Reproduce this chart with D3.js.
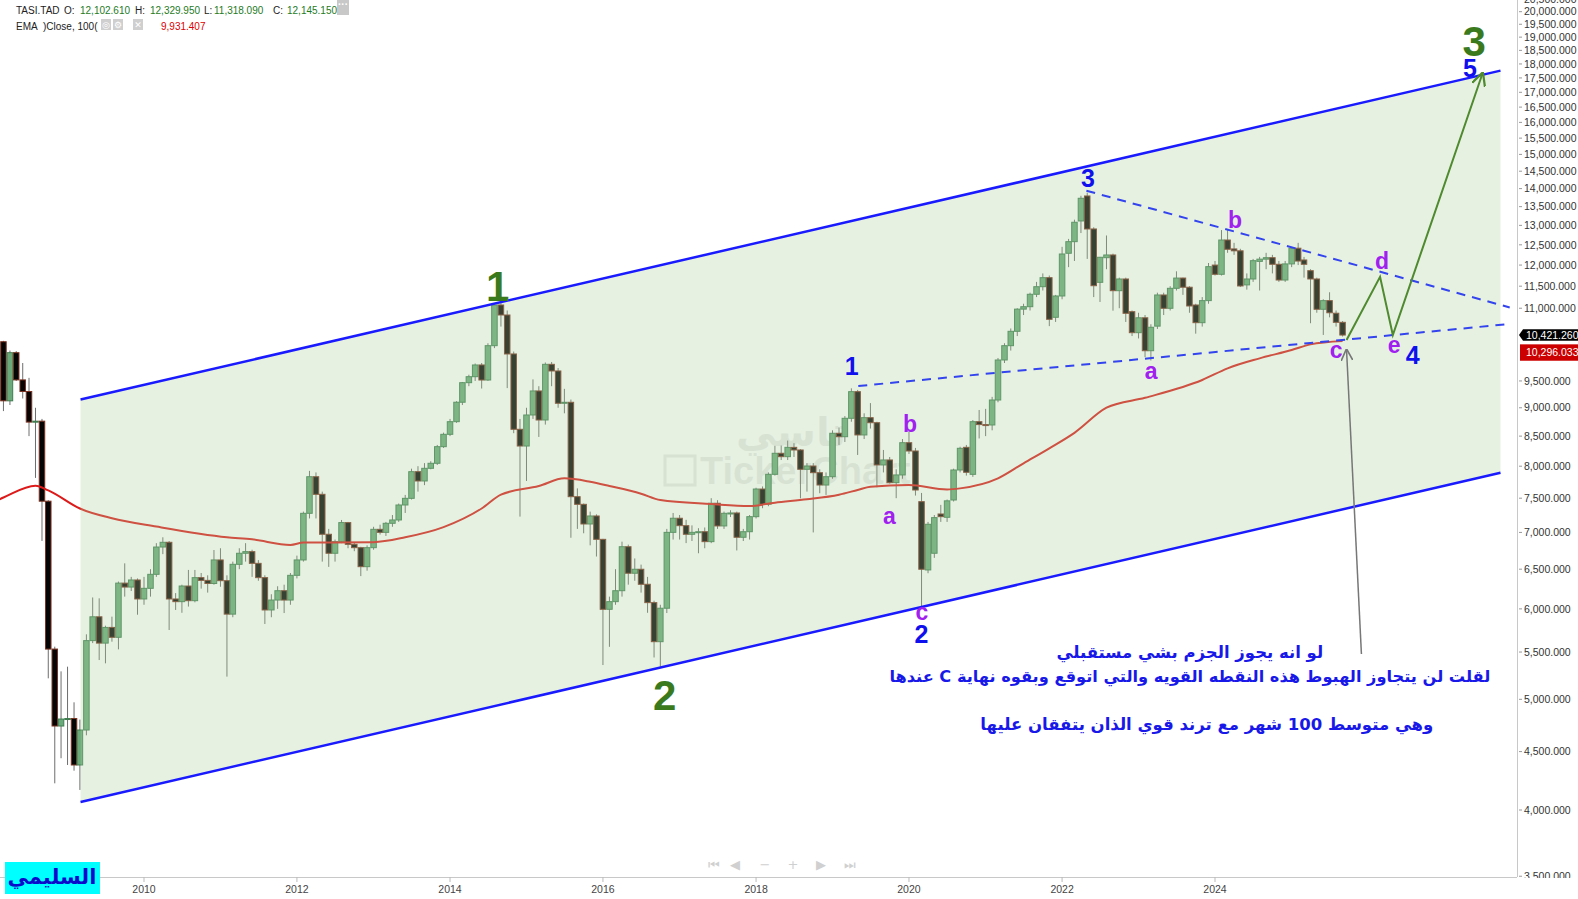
<!DOCTYPE html>
<html><head><meta charset="utf-8">
<script src="https://cdn.jsdelivr.net/npm/d3@7/dist/d3.min.js"></script>
<style>
body{margin:0;background:#fff;}
svg{display:block;font-family:"Liberation Sans",Arial,"DejaVu Sans",sans-serif;}
</style></head><body>
<svg id="chart" width="1578" height="899"></svg>
<script>
// ---------------- DATA (monthly TASI candles, [open, high, low, close]) ----------------
const firstMonth = "2008-03";
const ohlc2008 = [[10282,10300,8940,9127],[9127,10100,9050,10057],[10057,10090,9500,9520],[9520,9850,9170,9300],[9300,9560,8500,8744],[8744,9000,7813,8760],[8760,8800,6881,7455],[7455,7470,5216,5533],[5533,5560,4221,4738],[4738,5290,4440,4805]];
const ohlc2009 = [[4805,5340,4380,4810],[4810,4970,4330,4380],[4380,4800,4165,4700],[4700,5700,4650,5628],[5628,6140,5600,5905],[5905,6129,5412,5600],[5600,5800,5376,5780],[5780,5907,5616,5666],[5666,6340,5530,6320],[6320,6577,6150,6270],[6270,6400,6220,6360],[6360,6380,5930,6121]];
const ohlc2010 = [[6121,6400,6050,6254],[6254,6500,6150,6433],[6433,6850,6400,6797],[6797,6932,6700,6862],[6862,6880,5750,6121],[6121,6194,5987,6088],[6088,6300,5953,6283],[6283,6490,6028,6100],[6100,6490,6080,6390],[6390,6450,6250,6355],[6355,6420,6200,6315],[6315,6756,6300,6622]];
const ohlc2011 = [[6622,6780,6274,6351],[6351,6420,5234,5937],[5937,6600,5900,6564],[6564,6780,6500,6712],[6712,6850,6600,6734],[6734,6760,6400,6577],[6577,6620,6350,6390],[6390,6420,5820,5987],[5987,6180,5900,6108],[6108,6280,6000,6224],[6224,6300,5950,6108],[6108,6450,6050,6420]];
const ohlc2012 = [[6420,6680,6380,6622],[6622,7300,6600,7275],[7275,7925,7200,7832],[7832,7900,7200,7559],[7559,7600,6600,6974],[6974,7050,6530,6712],[6712,6900,6600,6871],[6871,7178,6850,7140],[7140,7150,6780,6834],[6834,6860,6740,6788],[6788,6800,6410,6533],[6533,6820,6480,6788]];
const ohlc2013 = [[6788,7080,6760,7044],[7044,7110,6970,7001],[7001,7150,6950,7130],[7130,7250,7080,7178],[7178,7420,7150,7398],[7398,7550,7280,7498],[7498,7960,7480,7912],[7912,8000,7600,7765],[7765,8050,7700,7966],[7966,8080,7950,8047],[8047,8350,8020,8321],[8321,8560,8300,8531]];
const ohlc2014 = [[8531,8800,8500,8751],[8751,9120,8730,9101],[9101,9480,9050,9467],[9467,9620,9400,9582],[9582,9840,9500,9811],[9811,9850,9356,9518],[9518,10250,9500,10200],[10200,11080,10150,11072],[11072,11160,10600,10851],[10851,10950,9364,10031],[10031,10080,8550,8618],[8618,8800,7227,8332]];
const ohlc2015 = [[8332,9000,7765,8870],[8870,9530,8800,9310],[9310,9400,8486,8781],[8781,9860,8700,9824],[9824,9870,9400,9693],[9693,9750,9000,9082],[9082,9350,8900,9100],[9100,9150,6925,7523],[7523,7650,7050,7408],[7408,7420,6988,7120],[7120,7300,6820,7236],[7236,7260,6668,6903]];
const ohlc2016 = [[6903,6910,5358,5995],[5995,6150,5558,6088],[6088,6500,6050,6224],[6224,6871,6150,6801],[6801,6830,6300,6447],[6447,6642,6350,6499],[6499,6560,6200,6305],[6305,6400,5953,6076],[6076,6100,5440,5616],[5616,6050,5338,6008],[6008,7050,5950,7001],[7001,7280,6900,7203]];
const ohlc2017 = [[7203,7250,6900,7096],[7096,7180,6851,6974],[6974,7100,6880,7001],[7001,7060,6712,7010],[7010,7070,6780,6871],[6871,7500,6850,7424],[7424,7470,7050,7092],[7092,7300,7050,7275],[7275,7320,7220,7280],[7280,7300,6750,6932],[6932,7050,6880,7010],[7010,7250,6900,7226]];
const ohlc2018 = [[7226,7660,7200,7640],[7640,7680,7350,7410],[7410,7900,7380,7870],[7870,8335,7850,8211],[8211,8340,8100,8155],[8155,8424,8100,8310],[8310,8380,8150,8266],[8266,8280,7498,7950],[7950,8050,7600,8003],[8003,8050,7000,7896],[7896,7950,7575,7702],[7702,7900,7550,7832]];
const ohlc2019 = [[7832,8600,7800,8549],[8549,8650,8350,8490],[8490,8850,8400,8811],[8811,9360,8750,9297],[9297,9330,8183,8520],[8520,8900,8450,8822],[8822,9085,8631,8733],[8733,8750,7667,8020],[8020,8266,7900,8101],[8101,8150,7725,7739],[7739,7950,7500,7860],[7860,8450,7800,8388]];
const ohlc2020 = [[8388,8600,8200,8249],[8249,8300,7540,7625],[7448,7580,6008,6499],[6490,7150,6447,7116],[6712,7250,6650,7212],[7265,7400,7150,7226],[7217,7480,7150,7460],[7473,7960,7450,7939],[7939,8320,7900,8294],[8310,8350,7850,7902],[7870,8780,7830,8751],[8751,8960,8460,8700]];
const ohlc2021 = [[8700,8980,8500,8693],[8693,9200,8600,9142],[9142,9950,9100,9910],[9910,10250,9850,10200],[10200,10560,10100,10500],[10500,11000,10400,10980],[10980,11100,10850,11034],[11034,11350,10950,11314],[11314,11600,11250,11488],[11488,11800,11400,11699],[11699,11750,10610,10757],[10801,11300,10700,11275]];
const ohlc2022 = [[11275,12450,11200,12271],[12289,12650,11950,12580],[12580,13150,12100,13082],[13116,13800,12800,13730],[13794,13887,12150,12906],[12906,12950,11250,11511],[11590,12200,11140,12190],[12180,12738,11900,12247],[12247,12280,10946,11396],[11396,11700,11000,11668],[11668,11700,10700,10888],[10924,10950,10400,10471]];
const ohlc2023 = [[10471,10900,10350,10790],[10790,10850,9966,10097],[10097,10650,9900,10586],[10610,11350,10550,11298],[11298,11350,10850,10999],[10999,11500,10950,11451],[11451,11850,11400,11690],[11690,11700,11300,11476],[11476,11500,10900,11050],[11072,11100,10450,10684],[10684,11250,10600,11170],[11170,12050,11100,11962]];
const ohlc2024 = [[12000,12100,11750,11779],[11779,12878,11750,12622],[12622,12880,12300,12388],[12397,12550,12250,12350],[12350,12400,11480,11505],[11530,11800,11420,11668],[11668,12150,11600,12107],[12090,12200,11400,12144],[12144,12300,11900,12180],[12180,12250,11800,12019],[12019,12100,11600,11644],[11644,12100,11600,12028]];
const ohlc2025 = [[12028,12450,11950,12415],[12415,12550,12000,12098],[12124,12200,11700,12019],[11865,11900,10672,11668],[11668,11700,10900,10977],[10977,11200,10423,11170],[11170,11360,10800,10900],[10890,10950,10600,10692],[10692,10720,10390,10421]];

// EMA(100) line
const emaMonths = ["2008-02","2008-03","2008-08","2008-10","2009-03","2009-08","2010-03","2011-02","2011-06","2011-12","2012-02","2013-01","2013-06","2013-12","2014-06","2014-09","2015-03","2015-07","2015-11","2016-02","2016-07","2016-10","2017-06","2017-12","2018-04","2018-09","2019-02","2019-05","2019-07","2020-01","2020-07","2020-09","2021-03","2021-07","2021-11","2022-03","2022-08","2023-02","2023-11","2024-03","2024-08","2025-01","2025-04","2025-09"];
const emaValues = [7470,7510,7690,7620,7346,7203,7083,6932,6903,6826,6858,6864,6932,7075,7346,7553,7687,7806,7753,7687,7568,7473,7413,7383,7433,7483,7553,7626,7676,7702,7633,7650,7806,8047,8294,8557,9001,9183,9518,9745,9943,10112,10227,10296];

// drawn channel and trend lines
const channelDates = ["2009-03-04","2027-09-25"];
const channelUpper = [9150,17760];
const channelLower = [4065,7895];
const trendLowDates = ["2019-05-04","2027-11-08"];
const trendLowValues = [9404,10656];
const trendHighDates = ["2022-04-27","2027-11-08"];
const trendHighValues = [13942,11017];
const projDates = ["2025-09-20","2026-02-27","2026-04-29","2027-07-01"];
const projValues = [10318,11720,10423,17658];
const pointerDates = ["2025-11-30","2025-09-20"];
const pointerValues = [5478,10112];

// wave labels
const waveTexts  = ["1","2","3","1","2","3","4","5","a","b","c","a","b","c","d","e"];
const waveKinds  = ["major","major","major","minor","minor","minor","minor","minor","abc","abc","abc","abc","abc","abc","abc","abc"];
const waveDates  = ["2014-08-17","2016-10-22","2027-05-22","2019-04-03","2020-03-01","2022-05-04","2026-08-02","2027-05-02","2019-09-30","2020-01-06","2020-03-03","2023-03-02","2024-04-06","2025-08-01","2026-03-08","2026-05-05"];
const waveValues = [11162,4894,18287,9606,5601,14046,9831,17518,7121,8575,5867,9538,12932,9959,11905,10051];

// Arabic notes
const noteTexts = ["لو انه يجوز الجزم بشي مستقبلي","لقلت لن يتجاوز الهبوط هذه النقطه القويه والتي اتوقع وبقوه نهاية C عندها","وهي متوسط 100 شهر مع ترند قوي الذان يتفقان عليها"];
const noteDates = ["2023-09-03","2023-09-03","2023-11-23"];
const noteValues = [5500,5240,4748];

// axes
const yTicks = [3500,4000,4500,5000,5500,6000,6500,7000,7500,8000,8500,9000,9500,11000,11500,12000,12500,13000,13500,14000,14500,15000,15500,16000,16500,17000,17500,18000,18500,19000,19500,20000,20500];
const xTickYears = ["2010","2012","2014","2016","2018","2020","2022","2024"];
const lastPrice = 10421.26;
const lastEma = 10296.033;
const header = {sym:"TASI.TAD", o:"12,102.610", h:"12,329.950", l:"11,318.090", c:"12,145.150", ema:"9,931.407"};

// ---------------- CHART ----------------
const svg = d3.select("#chart");
const plotR = 1517, plotB = 877;
const pd = d3.timeParse("%Y-%m-%d");
const pm = d3.timeParse("%Y-%m");
const x = d3.scaleTime().domain([new Date(2010,0,1), new Date(2024,0,1)]).range([144,1215]);
const y = d3.scaleLog().domain([4000,20000]).range([810,11.7]);

const all = [].concat(ohlc2008,ohlc2009,ohlc2010,ohlc2011,ohlc2012,ohlc2013,ohlc2014,ohlc2015,ohlc2016,ohlc2017,ohlc2018,ohlc2019,ohlc2020,ohlc2021,ohlc2022,ohlc2023,ohlc2024,ohlc2025);
const m0 = pm(firstMonth);
const candles = all.map((d,i)=>({date:new Date(m0.getFullYear(), m0.getMonth()+i, 1), o:d[0], h:d[1], l:d[2], c:d[3]}));

svg.append("rect").attr("width",1578).attr("height",899).attr("fill","#fff");
const defs = svg.append("defs");
defs.append("clipPath").attr("id","plotclip").append("rect").attr("x",0).attr("y",0).attr("width",plotR).attr("height",plotB);
defs.append("clipPath").attr("id","axclip").append("rect").attr("x",plotR).attr("y",0).attr("width",80).attr("height",878);
defs.append("marker").attr("id","arrG").attr("viewBox","0 0 10 10").attr("refX",9).attr("refY",5)
  .attr("markerWidth",7).attr("markerHeight",7).attr("orient","auto")
  .append("path").attr("d","M0,0 L10,5 L0,10").attr("fill","none").attr("stroke","#4f8a2f").attr("stroke-width",1.6);
defs.append("marker").attr("id","arrK").attr("viewBox","0 0 10 10").attr("refX",9).attr("refY",5)
  .attr("markerWidth",8).attr("markerHeight",8).attr("orient","auto")
  .append("path").attr("d","M0,0 L10,5 L0,10").attr("fill","none").attr("stroke","#777").attr("stroke-width",1.4);

const plot = svg.append("g").attr("clip-path","url(#plotclip)");

// watermark
const wm = plot.append("g").attr("opacity",0.08).attr("fill","#000");
wm.append("text").attr("x",791).attr("y",432).attr("text-anchor","middle").attr("dominant-baseline","central")
  .attr("font-size",40).attr("font-weight","bold").attr("font-family","DejaVu Sans, sans-serif").text("تاسي");
wm.append("rect").attr("x",665).attr("y",456).attr("width",30).attr("height",29).attr("fill","none").attr("stroke","#000").attr("stroke-width",3);
wm.append("text").attr("x",700).attr("y",484).attr("font-size",38).attr("font-weight","bold").text("TickerChart");

// candles
const bw = 5.5;
plot.append("g").selectAll("line").data(candles).join("line")
  .attr("x1",d=>x(d.date)).attr("x2",d=>x(d.date))
  .attr("y1",d=>y(d.h)).attr("y2",d=>y(d.l))
  .attr("stroke","#6e6e6e").attr("stroke-width",1);
plot.append("g").selectAll("rect").data(candles).join("rect")
  .attr("x",d=>x(d.date)-bw/2).attr("width",bw)
  .attr("y",d=>y(Math.max(d.o,d.c)))
  .attr("height",d=>Math.max(1,Math.abs(y(d.o)-y(d.c))))
  .attr("fill",d=>d.c>=d.o?"#6aaa7a":"#050505")
  .attr("stroke",d=>d.c>=d.o?"#3f7d50":"#7a3322").attr("stroke-width",1);

// EMA
const emaPts = emaMonths.map((m,i)=>[pm(m),emaValues[i]]);
plot.append("path").datum(emaPts)
  .attr("d",d3.line().x(d=>x(d[0])).y(d=>y(d[1])).curve(d3.curveMonotoneX))
  .attr("fill","none").attr("stroke","#dd1a1a").attr("stroke-width",2);

// channel fill overlay
const cd = channelDates.map(pd);
const poly = [[cd[0],channelUpper[0]],[cd[1],channelUpper[1]],[cd[1],channelLower[1]],[cd[0],channelLower[0]]];
plot.append("path").attr("d","M"+poly.map(p=>[x(p[0]),y(p[1])].join(",")).join("L")+"Z")
  .attr("fill","rgb(172,208,160)").attr("opacity",0.3);

// channel lines
const ln = d3.line().x(d=>x(d[0])).y(d=>y(d[1]));
[channelUpper,channelLower].forEach(v=>{
  plot.append("path").datum([[cd[0],v[0]],[cd[1],v[1]]]).attr("d",ln)
    .attr("stroke","#1a1aff").attr("stroke-width",2.5).attr("fill","none");
});
// dashed trend lines
plot.append("path").datum(trendLowDates.map((d,i)=>[pd(d),trendLowValues[i]])).attr("d",ln)
  .attr("stroke","#3344ee").attr("stroke-width",2).attr("stroke-dasharray","9,7").attr("fill","none");
plot.append("path").datum(trendHighDates.map((d,i)=>[pd(d),trendHighValues[i]])).attr("d",ln)
  .attr("stroke","#3344ee").attr("stroke-width",2).attr("stroke-dasharray","9,7").attr("fill","none");
// projection
plot.append("path").datum(projDates.map((d,i)=>[pd(d),projValues[i]])).attr("d",ln)
  .attr("stroke","#4f8a2f").attr("stroke-width",2).attr("fill","none").attr("marker-end","url(#arrG)");
plot.append("path").datum(pointerDates.map((d,i)=>[pd(d),pointerValues[i]])).attr("d",ln)
  .attr("stroke","#777").attr("stroke-width",1.5).attr("fill","none").attr("marker-end","url(#arrK)");

// wave labels
const kindStyle = {major:{size:42,color:"#3a7a1c"}, minor:{size:25,color:"#1010ee"}, abc:{size:23,color:"#a020f0"}};
waveTexts.forEach((t,i)=>{
  const s = kindStyle[waveKinds[i]];
  plot.append("text").attr("x",x(pd(waveDates[i]))).attr("y",y(waveValues[i]))
    .attr("text-anchor","middle").attr("font-size",s.size).attr("font-weight","bold")
    .attr("fill",s.color).text(t);
});

// Arabic notes
const noteSizes = [16.5,16.2,16.5];
noteTexts.forEach((t,i)=>{
  plot.append("text").attr("x",x(pd(noteDates[i]))).attr("y",y(noteValues[i]))
    .attr("text-anchor","middle").attr("dominant-baseline","central").attr("direction","rtl")
    .attr("font-size",noteSizes[i]).attr("font-weight","bold").attr("fill","#1818e8")
    .attr("font-family","'DejaVu Sans', sans-serif").text(t);
});

// ---------------- AXES ----------------
svg.append("line").attr("x1",plotR+0.5).attr("x2",plotR+0.5).attr("y1",0).attr("y2",plotB).attr("stroke","#c8c8c8");
svg.append("line").attr("x1",0).attr("x2",plotR).attr("y1",plotB+0.5).attr("y2",plotB+0.5).attr("stroke","#c8c8c8");
const ya = svg.append("g").attr("clip-path","url(#axclip)");
yTicks.forEach(v=>{
  const yy = y(v);
  ya.append("line").attr("x1",plotR+2).attr("x2",plotR+5).attr("y1",yy).attr("y2",yy).attr("stroke","#999");
  ya.append("text").attr("x",plotR+7).attr("y",yy).attr("dy","0.35em").attr("font-size",10.5).attr("fill","#333")
    .text(d3.format(",.3f")(v));
});
// price tags
const tagY = y(lastPrice);
svg.append("path").attr("d",`M${plotR+2},${tagY} L${plotR+6},${tagY-5.7} L1578,${tagY-5.7} L1578,${tagY+5.7} L${plotR+6},${tagY+5.7} Z`).attr("fill","#000");
svg.append("text").attr("x",plotR+9).attr("y",tagY).attr("dy","0.35em").attr("font-size",10.5).attr("fill","#fff").text(d3.format(",.3f")(lastPrice));
const emaTagY = Math.max(y(lastEma), tagY+17.5);
svg.append("rect").attr("x",plotR+3).attr("y",emaTagY-8.2).attr("width",60).attr("height",16.4).attr("fill","#cc0000");
svg.append("text").attr("x",plotR+9).attr("y",emaTagY).attr("dy","0.35em").attr("font-size",10.5).attr("fill","#fff").text(d3.format(",.3f")(lastEma));

xTickYears.forEach(t=>{
  const xx = x(pd(t+"-01-01"));
  svg.append("line").attr("x1",xx).attr("x2",xx).attr("y1",plotB).attr("y2",plotB+5).attr("stroke","#bbb");
  svg.append("text").attr("x",xx).attr("y",889).attr("dy","0.35em").attr("text-anchor","middle").attr("font-size",10.5).attr("fill","#444").text(t);
});

// navigation widgets
const nav = ["⏮","◀","−","+","▶","⏭"], navX=[714,735,765,793,821,850];
nav.forEach((n,i)=>svg.append("text").attr("x",navX[i]).attr("y",864).attr("dy","0.35em").attr("text-anchor","middle")
  .attr("font-size",13).attr("fill","#d0d0d0").attr("font-family","DejaVu Sans, sans-serif").text(n));

// signature
svg.append("rect").attr("x",5).attr("y",862).attr("width",95).attr("height",32).attr("fill","#00ffff");
svg.append("text").attr("x",52).attr("y",877).attr("dy","0.35em").attr("text-anchor","middle").attr("font-size",21)
  .attr("font-weight","bold").attr("fill","#0a0acc").attr("font-family","'DejaVu Sans', sans-serif").text("السليمي");

// header
const hd = svg.append("g").attr("font-size",10);
hd.append("text").attr("x",16).attr("y",14).attr("fill","#222").text(header.sym);
[["O:",64,header.o,80],["H:",135,header.h,150],["L:",204,header.l,214],["C:",273,header.c,287]].forEach(a=>{
  hd.append("text").attr("x",a[1]).attr("y",14).attr("fill","#222").text(a[0]);
  hd.append("text").attr("x",a[3]).attr("y",14).attr("fill","#1e7b1e").text(a[2]);
});
hd.append("rect").attr("x",337).attr("y",0).attr("width",12).attr("height",15).attr("fill","#c8c8c8");
hd.append("text").attr("x",343).attr("y",8).attr("text-anchor","middle").attr("fill","#fff").attr("font-weight","bold").text("···");
hd.append("text").attr("x",16).attr("y",30).attr("fill","#222").text("EMA");
hd.append("text").attr("x",43).attr("y",30).attr("fill","#222").text(")Close, 100(");
[[101,"◎"],[113,"⚙"],[133,"✕"]].forEach(a=>{
  hd.append("rect").attr("x",a[0]).attr("y",19).attr("width",10).attr("height",11).attr("fill","#cfcfcf");
  hd.append("text").attr("x",a[0]+5).attr("y",28).attr("text-anchor","middle").attr("font-size",9).attr("fill","#fff").attr("font-family","DejaVu Sans, sans-serif").text(a[1]);
});
hd.append("text").attr("x",161).attr("y",30).attr("fill","#dd0000").text(header.ema);
</script>
</body></html>
